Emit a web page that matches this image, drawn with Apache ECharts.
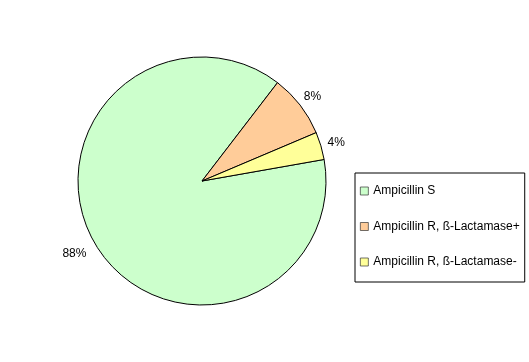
<!DOCTYPE html>
<html>
<head>
<meta charset="utf-8">
<script src="https://cdn.jsdelivr.net/npm/echarts@6/dist/echarts.min.js"></script>
<style>html,body{margin:0;padding:0;background:#fff;}#c{width:529px;height:362px;}</style>
</head>
<body>
<div id="c"></div>
<script>
var categories = ['Ampicillin S', 'Ampicillin R, ß-Lactamase+', 'Ampicillin R, ß-Lactamase-'];
var values = [88.2, 8.2, 3.6];
var colors = ['#CCFFCC', '#FFCC99', '#FFFF99'];

var chart = echarts.init(document.getElementById('c'));
var data = categories.map(function (n, i) {
  return { name: n, value: values[i], itemStyle: { color: colors[i] } };
});
var center = [202, 181];
chart.setOption({
  animation: false,
  backgroundColor: '#fff',
  textStyle: { fontFamily: 'Liberation Sans, Arial, sans-serif' },
  legend: {
    orient: 'vertical',
    left: 355, top: 173,
    padding: [12, 5, 14, 5],
    itemGap: 23.5,
    itemWidth: 8, itemHeight: 8,
    icon: 'rect',
    itemStyle: { borderColor: '#333', borderWidth: 0.7 },
    borderColor: '#000', borderWidth: 1,
    backgroundColor: '#fff',
    textStyle: { fontFamily: 'Liberation Sans, Arial, sans-serif', fontSize: 12, color: '#000' },
    data: categories
  },
  series: [{
    type: 'pie',
    center: center,
    radius: 124,
    startAngle: 10,
    clockwise: true,
    silent: true,
    label: { show: false },
    labelLine: { show: false },
    itemStyle: { borderColor: '#000', borderWidth: 1 },
    data: data
  }, {
    type: 'pie',
    center: center,
    radius: [126, 150],
    startAngle: 10,
    clockwise: true,
    silent: true,
    legendHoverLink: false,
    itemStyle: { color: 'rgba(0,0,0,0)', borderWidth: 0 },
    label: {
      show: true, position: 'inside',
      fontFamily: 'Liberation Sans, Arial, sans-serif', fontSize: 12, color: '#000',
      formatter: function (p) { return Math.round(p.percent) + '%'; }
    },
    labelLayout: function (p) { return p.dataIndex === 0 ? { dx: -7 } : { dx: -1, dy: 2 }; },
    labelLine: { show: false },
    data: categories.map(function (n, i) { return { name: n + ' ', value: values[i] }; })
  }]
});
</script>
</body>
</html>
